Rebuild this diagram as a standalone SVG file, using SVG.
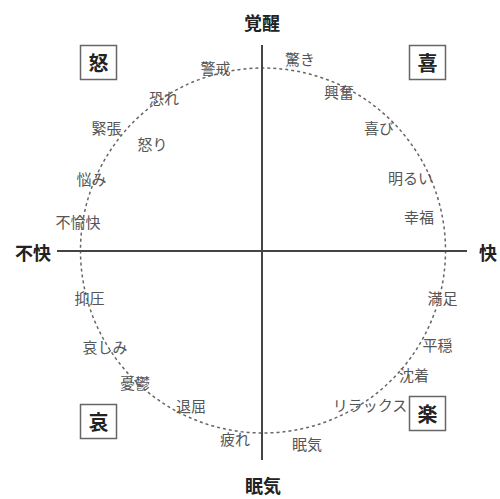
<svg xmlns="http://www.w3.org/2000/svg" width="500" height="499" viewBox="0 0 500 499">
<style>
text{font-family:"Noto Sans CJK JP","Noto Sans CJK SC",sans-serif;text-anchor:middle;dominant-baseline:central}
.lbl{font-size:15px;fill:#555}
.axis{font-size:18px;font-weight:bold;fill:#222}
.box rect{fill:#fff;stroke:#666;stroke-width:1.5}
.box text{font-size:20px;font-weight:bold;fill:#222}
.ax{stroke:#444;stroke-width:2}
.circ{fill:none;stroke:#666;stroke-width:1.5;stroke-dasharray:3 3}
</style>
<rect width="500" height="499" fill="#fff"/>
<g id="connectors">
<circle class="circ" cx="263" cy="250.5" r="182.5"/>
<line class="ax" x1="57" y1="251" x2="467" y2="251"/>
<line class="ax" x1="262" y1="45" x2="262" y2="460"/>
</g>
<g id="axis-top"><text class="axis" x="262" y="22">覚醒</text></g>
<g id="axis-bottom"><text class="axis" x="263" y="485">眠気</text></g>
<g id="axis-left"><text class="axis" x="33" y="252">不快</text></g>
<g id="axis-right"><text class="axis" x="488" y="252">快</text></g>
<g id="box-do" class="box"><rect x="80.5" y="45.5" width="36" height="34"/><text x="98.5" y="62.5">怒</text></g>
<g id="box-ki" class="box"><rect x="409.5" y="45.5" width="36" height="34"/><text x="427.5" y="62.5">喜</text></g>
<g id="box-ai" class="box"><rect x="80.5" y="404.5" width="36" height="34"/><text x="98.5" y="421.5">哀</text></g>
<g id="box-raku" class="box"><rect x="409.5" y="396.5" width="36" height="34"/><text x="427.5" y="413.5">楽</text></g>
<g id="n-keikai"><text class="lbl" x="215.5" y="67">警戒</text></g>
<g id="n-osore"><text class="lbl" x="164" y="97">恐れ</text></g>
<g id="n-kincho"><text class="lbl" x="106.5" y="127">緊張</text></g>
<g id="n-ikari"><text class="lbl" x="152.5" y="143">怒り</text></g>
<g id="n-nayami"><text class="lbl" x="91.5" y="178">悩み</text></g>
<g id="n-fuyukai"><text class="lbl" x="78" y="221">不愉快</text></g>
<g id="n-odoroki"><text class="lbl" x="300" y="58">驚き</text></g>
<g id="n-kofun"><text class="lbl" x="339" y="91">興奮</text></g>
<g id="n-yorokobi"><text class="lbl" x="379" y="127">喜び</text></g>
<g id="n-akarui"><text class="lbl" x="410.5" y="177">明るい</text></g>
<g id="n-kofuku"><text class="lbl" x="419" y="216">幸福</text></g>
<g id="n-yokuatsu"><text class="lbl" x="89.5" y="297">抑圧</text></g>
<g id="n-kanashimi"><text class="lbl" x="105" y="346">哀しみ</text></g>
<g id="n-yuutsu"><text class="lbl" x="135" y="382">憂鬱</text></g>
<g id="n-taikutsu"><text class="lbl" x="191" y="405">退屈</text></g>
<g id="n-tsukare"><text class="lbl" x="235" y="438">疲れ</text></g>
<g id="n-manzoku"><text class="lbl" x="442.5" y="297">満足</text></g>
<g id="n-heion"><text class="lbl" x="437.5" y="344">平穏</text></g>
<g id="n-chinchaku"><text class="lbl" x="414" y="374">沈着</text></g>
<g id="n-relax"><text class="lbl" x="370" y="404">リラックス</text></g>
<g id="n-nemuke"><text class="lbl" x="307" y="443">眠気</text></g>
</svg>
